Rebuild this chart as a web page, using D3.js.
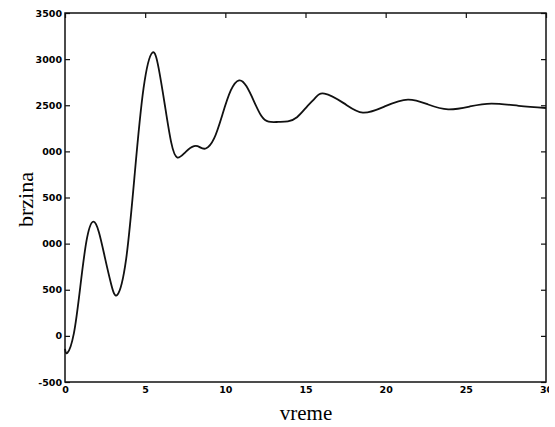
<!DOCTYPE html>
<html lang="en">
<head>
<meta charset="UTF-8">
<title>brzina - vreme</title>
<script src="https://d3js.org/d3.v7.min.js"></script>
<style>
  body { margin: 0; background: #fff; }
  svg { display: block; }
</style>
</head>
<body>
<svg id="chart" width="555" height="427"></svg>
<script>
// time (vreme) and speed (brzina)
const vreme = [0, 0.15, 0.55, 0.95, 1.34, 1.74, 2.12, 2.5, 2.88, 3.26, 3.81, 4.35, 4.9, 5.45, 5.84, 6.23, 6.62, 7.01,
  7.53, 8.05, 8.4, 8.78, 9.3, 9.82, 10.34, 10.86, 11.32, 11.78, 12.24, 12.7, 13.3, 13.9, 14.47, 15.04, 15.61,
  16.18, 17.38, 18.58, 19.98, 21.39, 22.65, 23.9, 25.25, 26.6, 28.3, 30];
const brzina = [-140, -184, 25, 527, 1029, 1237, 1121, 840, 560, 444, 829, 1757, 2685, 3070, 2903, 2500, 2100, 1933,
  1995, 2056, 2046, 2031, 2140, 2400, 2660, 2770, 2705, 2545, 2385, 2322, 2319, 2325, 2370, 2475, 2580,
  2626, 2523, 2420, 2490, 2561, 2508, 2456, 2487, 2518, 2494, 2470];

const xTicks = [0, 5, 10, 15, 20, 25, 30];
const xTickLabels = ["0", "5", "10", "15", "20", "25", "30"];
const yTicks = [-500, 0, 500, 1000, 1500, 2000, 2500, 3000, 3500];
// the scan cuts off the leading digit of some labels
const yTickLabels = ["-500", "0", "500", "000", "500", "000", "2500", "3000", "3500"];

const svg = d3.select("#chart");
const width = +svg.attr("width");
const height = +svg.attr("height");
const margin = { top: 13, right: 9, bottom: 45, left: 65 };

const x = d3.scaleLinear().domain([0, 30]).range([margin.left, width - margin.right]);
const y = d3.scaleLinear().domain([-500, 3500]).range([height - margin.bottom, margin.top]);

svg.append("defs").append("clipPath").attr("id", "edge")
  .append("rect").attr("x", 0).attr("y", 0).attr("width", 549).attr("height", height);

const tickFont = "'DejaVu Sans', Arial, sans-serif";

// bottom axis, ticks point inward
const xAxis = svg.append("g")
  .attr("transform", `translate(0,${y(-500)})`)
  .attr("clip-path", "url(#edge)")
  .call(d3.axisBottom(x).tickValues(xTicks).tickSize(-5).tickPadding(4)
    .tickFormat((d, i) => xTickLabels[i]));
xAxis.select(".domain").remove();
xAxis.selectAll("text").style("font", `bold 9.5px ${tickFont}`).attr("dy", "0.72em").attr("y", 4);

const topAxis = svg.append("g")
  .attr("transform", `translate(0,${y(3500)})`)
  .call(d3.axisTop(x).tickValues(xTicks).tickSize(-5).tickFormat(""));
topAxis.select(".domain").remove();

const yAxis = svg.append("g")
  .attr("transform", `translate(${x(0)},0)`)
  .call(d3.axisLeft(y).tickValues(yTicks).tickSize(-5).tickPadding(3)
    .tickFormat((d, i) => yTickLabels[i]));
yAxis.select(".domain").remove();
yAxis.selectAll("text").style("font", `bold 9.5px ${tickFont}`);

const rightAxis = svg.append("g")
  .attr("transform", `translate(${x(30)},0)`)
  .call(d3.axisRight(y).tickValues(yTicks).tickSize(-5).tickFormat(""));
rightAxis.select(".domain").remove();

svg.selectAll(".tick line").attr("stroke", "#111").attr("stroke-width", 1.2);

// frame
svg.append("rect")
  .attr("x", x(0)).attr("y", y(3500))
  .attr("width", x(30) - x(0)).attr("height", y(-500) - y(3500))
  .attr("fill", "none").attr("stroke", "#111").attr("stroke-width", 1.5);

// curve
const line = d3.line()
  .x((d, i) => x(vreme[i]))
  .y(d => y(d))
  .curve(d3.curveNatural);

svg.append("path")
  .datum(brzina)
  .attr("d", line)
  .attr("fill", "none")
  .attr("stroke", "#111")
  .attr("stroke-width", 1.8);

// axis titles
svg.append("text")
  .attr("x", 306).attr("y", 420)
  .attr("text-anchor", "middle")
  .style("font", "21px 'Liberation Serif', 'Times New Roman', serif")
  .text("vreme");

svg.append("text")
  .attr("text-anchor", "middle")
  .attr("transform", `translate(33,${(y(3500) + y(-500)) / 2 + 2})rotate(-90)`)
  .style("font", "22px 'Liberation Serif', 'Times New Roman', serif")
  .text("brzina");
</script>
</body>
</html>
